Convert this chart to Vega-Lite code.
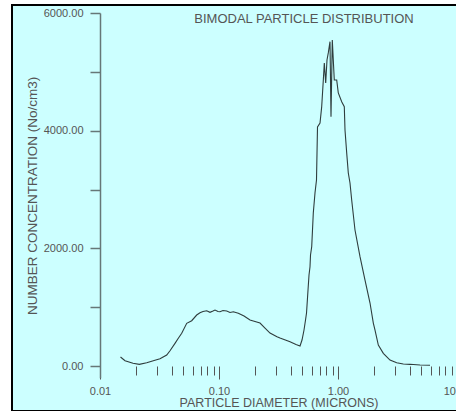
{
  "$schema": "https://vega.github.io/schema/vega-lite/v6.json",
  "width": 470,
  "height": 406,
  "autosize": {"type": "none"},
  "padding": {"left": 12, "top": 5, "right": 0, "bottom": 0},
  "background": "#ffffff",
  "title": {
    "text": "BIMODAL PARTICLE DISTRIBUTION",
    "anchor": "middle",
    "frame": "group",
    "dx": 57,
    "offset": -21,
    "font": "Liberation Sans",
    "fontSize": 13,
    "fontWeight": "normal",
    "color": "#555555"
  },
  "config": {
    "view": {"fill": "#ccffff", "stroke": "#000000", "strokeWidth": 2},
    "font": "Liberation Sans"
  },
  "data": {
    "values": [
      {"d": 0.01487, "c": 153},
      {"d": 0.01623, "c": 90},
      {"d": 0.01894, "c": 46},
      {"d": 0.02139, "c": 29},
      {"d": 0.02469, "c": 56},
      {"d": 0.02805, "c": 90},
      {"d": 0.03193, "c": 124},
      {"d": 0.03636, "c": 187},
      {"d": 0.03875, "c": 260},
      {"d": 0.04268, "c": 386},
      {"d": 0.0455, "c": 471},
      {"d": 0.04861, "c": 556},
      {"d": 0.05354, "c": 726},
      {"d": 0.05897, "c": 770},
      {"d": 0.06495, "c": 867},
      {"d": 0.06922, "c": 906},
      {"d": 0.07337, "c": 927},
      {"d": 0.07883, "c": 940},
      {"d": 0.08403, "c": 913},
      {"d": 0.08904, "c": 935},
      {"d": 0.09256, "c": 952},
      {"d": 0.09809, "c": 927},
      {"d": 0.1019, "c": 923},
      {"d": 0.108, "c": 944},
      {"d": 0.1161, "c": 935},
      {"d": 0.1237, "c": 910},
      {"d": 0.1319, "c": 923},
      {"d": 0.1453, "c": 896},
      {"d": 0.1623, "c": 850},
      {"d": 0.1822, "c": 782},
      {"d": 0.2007, "c": 756},
      {"d": 0.2211, "c": 731},
      {"d": 0.2436, "c": 646},
      {"d": 0.2683, "c": 561},
      {"d": 0.3072, "c": 498},
      {"d": 0.3255, "c": 476},
      {"d": 0.3951, "c": 413},
      {"d": 0.4437, "c": 365},
      {"d": 0.4795, "c": 340},
      {"d": 0.4984, "c": 442},
      {"d": 0.5181, "c": 612},
      {"d": 0.5334, "c": 782},
      {"d": 0.5438, "c": 901},
      {"d": 0.5598, "c": 1292},
      {"d": 0.5707, "c": 1547},
      {"d": 0.5818, "c": 1688},
      {"d": 0.5875, "c": 1887},
      {"d": 0.6012, "c": 2028},
      {"d": 0.62, "c": 2601},
      {"d": 0.6407, "c": 2941},
      {"d": 0.6596, "c": 3162},
      {"d": 0.6726, "c": 4063},
      {"d": 0.7061, "c": 4131},
      {"d": 0.7295, "c": 4408},
      {"d": 0.7526, "c": 4862},
      {"d": 0.7673, "c": 5151},
      {"d": 0.7882, "c": 4811},
      {"d": 0.8082, "c": 5202},
      {"d": 0.8287, "c": 5321},
      {"d": 0.8566, "c": 5513},
      {"d": 0.8733, "c": 4238},
      {"d": 0.8955, "c": 5542},
      {"d": 0.9308, "c": 4862},
      {"d": 0.9752, "c": 4862},
      {"d": 1.0058, "c": 4641},
      {"d": 1.0742, "c": 4493},
      {"d": 1.1296, "c": 4408},
      {"d": 1.1451, "c": 4012},
      {"d": 1.1834, "c": 3621},
      {"d": 1.2207, "c": 3281},
      {"d": 1.2613, "c": 3111},
      {"d": 1.3032, "c": 2822},
      {"d": 1.3894, "c": 2312},
      {"d": 1.5308, "c": 1858},
      {"d": 1.6866, "c": 1462},
      {"d": 1.8582, "c": 1071},
      {"d": 1.9808, "c": 731},
      {"d": 2.0465, "c": 612},
      {"d": 2.1818, "c": 357},
      {"d": 2.4036, "c": 216},
      {"d": 2.7353, "c": 102},
      {"d": 3.1139, "c": 56},
      {"d": 3.5385, "c": 34},
      {"d": 4.0272, "c": 29},
      {"d": 4.8889, "c": 17},
      {"d": 5.932, "c": 14}
    ]
  },
  "mark": {"type": "line", "color": "#2f3d3d", "strokeWidth": 1.1},
  "encoding": {
    "x": {
      "field": "d",
      "type": "quantitative",
      "scale": {"type": "log", "domain": [0.01, 10], "range": [88, 445], "nice": false},
      "axis": {
        "title": "PARTICLE DIAMETER (MICRONS)",
        "offset": -45,
        "domain": false,
        "grid": false,
        "values": [0.01, 0.02, 0.03, 0.04, 0.05, 0.06, 0.07, 0.08, 0.09, 0.1, 0.2, 0.3, 0.4, 0.5, 0.6, 0.7, 0.8, 0.9, 1, 2, 3, 4, 5, 6, 7, 8, 9, 10],
        "labelExpr": "indexof([0.01, 0.1, 1, 10], datum.value) >= 0 ? format(datum.value, '.2f') : ''",
        "labelOverlap": false,
        "labelBound": false,
        "labelFlush": false,
        "labelFont": "Liberation Sans",
        "labelFontSize": 11,
        "labelColor": "#555555",
        "labelPadding": 6,
        "tickColor": "#555555",
        "tickWidth": 1,
        "tickSize": {"condition": {"test": "indexof([0.01, 0.1, 1, 10], datum.value) >= 0", "value": 13}, "value": 9},
        "titleFont": "Liberation Sans",
        "titleFontSize": 12.5,
        "titleFontWeight": "normal",
        "titleColor": "#555555",
        "titlePadding": 0
      }
    },
    "y": {
      "field": "c",
      "type": "quantitative",
      "scale": {"domain": [-200, 6000], "range": [372.8, 8], "nice": false, "zero": false},
      "axis": {
        "title": "NUMBER CONCENTRATION (No/cm3)",
        "offset": -88,
        "grid": false,
        "values": [0, 1000, 2000, 3000, 4000, 5000, 6000],
        "labelExpr": "datum.value % 2000 === 0 ? format(datum.value, '.2f') : ''",
        "labelOverlap": false,
        "labelBound": false,
        "labelFlush": false,
        "labelFont": "Liberation Sans",
        "labelFontSize": 11,
        "labelColor": "#555555",
        "labelPadding": 7,
        "domainColor": "#667777",
        "domainWidth": 1.5,
        "tickColor": "#667777",
        "tickWidth": 1.5,
        "tickSize": 10,
        "titleFont": "Liberation Sans",
        "titleFontSize": 13.5,
        "titleFontWeight": "normal",
        "titleColor": "#555555",
        "titlePadding": 4
      }
    }
  }
}
